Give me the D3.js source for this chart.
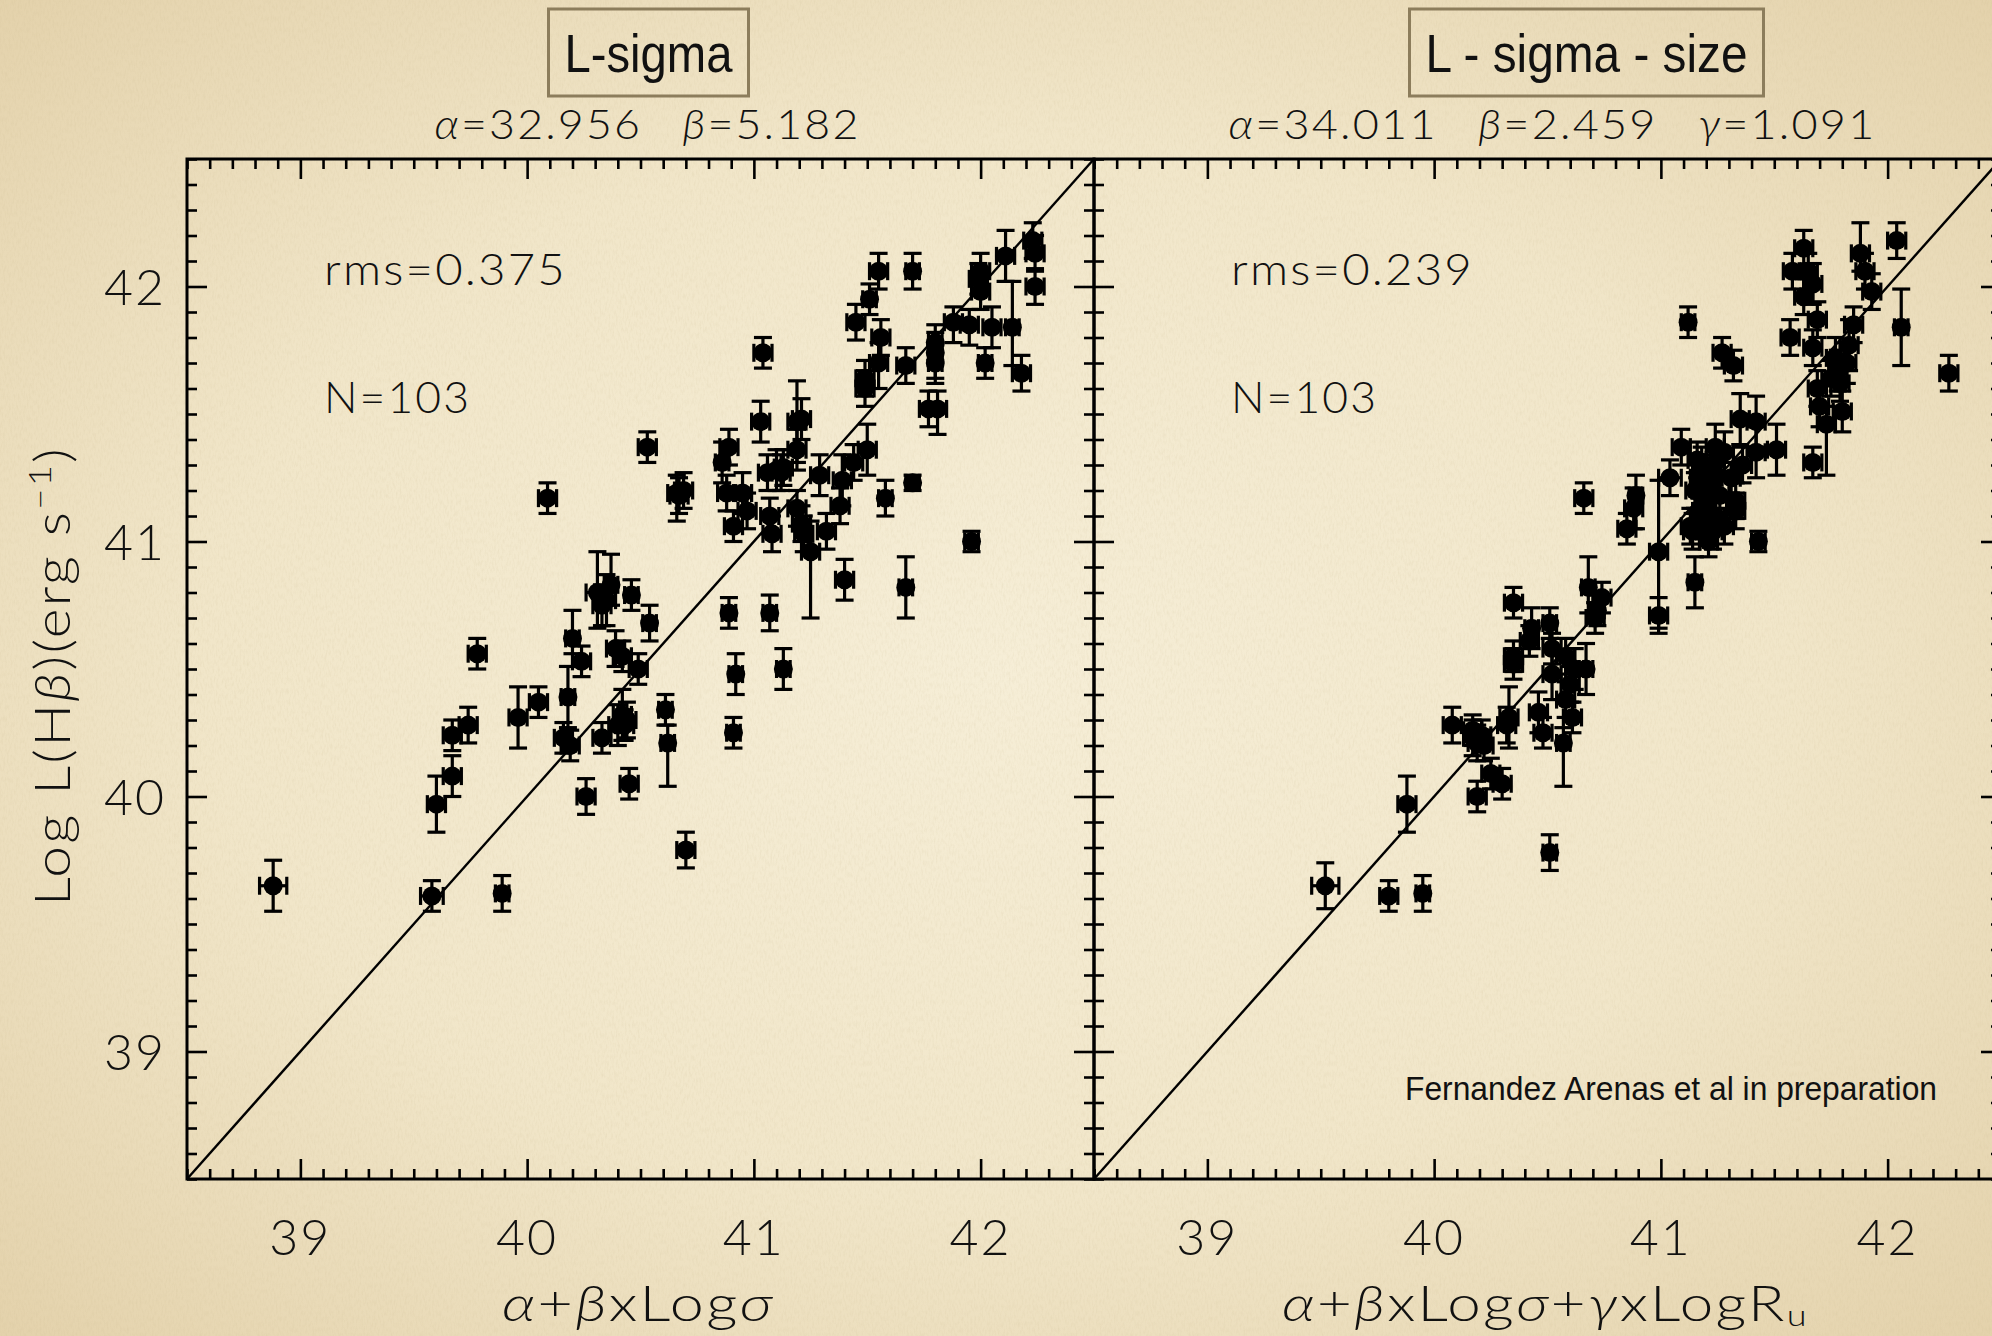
<!DOCTYPE html>
<html>
<head>
<meta charset="utf-8">
<script src="https://cdn.jsdelivr.net/npm/d3@7"></script>
<style>
  html, body { margin: 0; padding: 0; background: #efe3c4; }
  svg { display: block; }
</style>
</head>
<body>
<svg id="chart" width="1992" height="1336"></svg>
<script>
// ---- values ----
const panelTitles = ["L-sigma", "L - sigma - size"];
const fitParamsSigma = [["α", "32.956"], ["β", "5.182"]];
const fitParamsSigmaSize = [["α", "34.011"], ["β", "2.459"], ["γ", "1.091"]];
const rmsValues = ["0.375", "0.239"];
const sampleSizes = [103, 103];
const axisTicks = [39, 40, 41, 42];
const axisDomain = [38.5, 42.5];
const creditNote = "Fernandez Arenas et al in preparation";

// each galaxy: [predicted, log L(Hbeta), err below, err above, err in x]
const lSigma = [
  [38.88, 39.65, 0.10, 0.10, 0.06], [39.58, 39.61, 0.06, 0.06, 0.05], [39.60, 39.97, 0.11, 0.11, 0.04],
  [39.67, 40.08, 0.08, 0.08, 0.04], [39.67, 40.24, 0.06, 0.06, 0.04], [39.74, 40.28, 0.07, 0.07, 0.04],
  [39.78, 40.56, 0.06, 0.06, 0.04], [39.89, 39.62, 0.07, 0.07, 0.03], [39.96, 40.31, 0.12, 0.12, 0.04],
  [40.05, 40.37, 0.06, 0.06, 0.04], [40.09, 41.17, 0.06, 0.06, 0.04], [40.18, 40.39, 0.12, 0.12, 0.03],
  [40.16, 40.23, 0.06, 0.06, 0.04], [40.19, 40.20, 0.06, 0.06, 0.04], [40.20, 40.62, 0.06, 0.11, 0.03],
  [40.24, 40.53, 0.06, 0.06, 0.04], [40.26, 40.00, 0.07, 0.07, 0.04], [40.31, 40.80, 0.14, 0.16, 0.05],
  [40.33, 40.75, 0.08, 0.08, 0.04], [40.37, 40.83, 0.08, 0.12, 0.03], [40.33, 40.23, 0.06, 0.06, 0.04],
  [40.39, 40.58, 0.07, 0.07, 0.04], [40.42, 40.55, 0.06, 0.06, 0.04], [40.42, 40.32, 0.10, 0.10, 0.04],
  [40.40, 40.28, 0.08, 0.08, 0.04], [40.44, 40.30, 0.07, 0.07, 0.04], [40.46, 40.79, 0.06, 0.06, 0.03],
  [40.45, 40.05, 0.06, 0.06, 0.04], [40.49, 40.50, 0.06, 0.06, 0.04], [40.54, 40.68, 0.07, 0.07, 0.03],
  [40.53, 41.37, 0.06, 0.06, 0.04], [40.61, 40.34, 0.06, 0.06, 0.03], [40.62, 40.21, 0.17, 0.07, 0.03],
  [40.66, 41.19, 0.11, 0.07, 0.04], [40.69, 41.20, 0.07, 0.07, 0.04], [40.70, 39.79, 0.07, 0.07, 0.04],
  [40.86, 41.31, 0.08, 0.08, 0.03], [40.89, 41.37, 0.07, 0.07, 0.04], [40.88, 41.19, 0.07, 0.07, 0.04],
  [40.89, 40.72, 0.06, 0.06, 0.03], [40.91, 40.25, 0.06, 0.06, 0.03], [40.92, 40.48, 0.08, 0.08, 0.03],
  [40.91, 41.06, 0.06, 0.06, 0.04], [40.95, 41.19, 0.08, 0.08, 0.04], [40.97, 41.12, 0.07, 0.07, 0.04],
  [41.03, 41.47, 0.08, 0.08, 0.04], [41.04, 41.74, 0.06, 0.06, 0.04], [41.06, 41.27, 0.07, 0.07, 0.04],
  [41.07, 40.72, 0.07, 0.07, 0.03], [41.07, 41.10, 0.07, 0.07, 0.04], [41.08, 41.03, 0.07, 0.07, 0.04],
  [41.10, 41.28, 0.08, 0.08, 0.04], [41.13, 41.29, 0.07, 0.07, 0.04], [41.13, 40.50, 0.08, 0.08, 0.03],
  [41.19, 41.47, 0.16, 0.16, 0.04], [41.21, 41.48, 0.08, 0.08, 0.04], [41.19, 41.36, 0.08, 0.08, 0.04],
  [41.19, 41.13, 0.07, 0.07, 0.04], [41.21, 41.07, 0.07, 0.07, 0.04], [41.22, 41.03, 0.07, 0.07, 0.04],
  [41.25, 40.96, 0.26, 0.12, 0.04], [41.29, 41.26, 0.08, 0.08, 0.04], [41.32, 41.04, 0.07, 0.07, 0.04],
  [41.38, 41.14, 0.07, 0.07, 0.04], [41.39, 41.24, 0.10, 0.10, 0.04], [41.40, 40.85, 0.08, 0.08, 0.04],
  [41.44, 41.31, 0.07, 0.07, 0.04], [41.45, 41.86, 0.07, 0.07, 0.04], [41.49, 41.64, 0.07, 0.07, 0.04],
  [41.49, 41.60, 0.07, 0.07, 0.04], [41.50, 41.36, 0.10, 0.10, 0.04], [41.51, 41.95, 0.06, 0.06, 0.03],
  [41.55, 42.06, 0.07, 0.07, 0.04], [41.56, 41.80, 0.07, 0.07, 0.04], [41.55, 41.70, 0.10, 0.08, 0.04],
  [41.58, 41.17, 0.07, 0.07, 0.03], [41.67, 41.69, 0.07, 0.07, 0.04], [41.67, 40.82, 0.12, 0.12, 0.03],
  [41.70, 41.23, 0.03, 0.03, 0.03], [41.70, 42.06, 0.07, 0.07, 0.03], [41.77, 41.52, 0.07, 0.07, 0.04],
  [41.80, 41.74, 0.10, 0.08, 0.03], [41.80, 41.70, 0.08, 0.07, 0.03], [41.80, 41.78, 0.07, 0.07, 0.03],
  [41.81, 41.52, 0.10, 0.07, 0.04], [41.88, 41.86, 0.08, 0.06, 0.04], [41.95, 41.85, 0.08, 0.06, 0.04],
  [41.96, 41.00, 0.04, 0.04, 0.03], [42.00, 42.06, 0.07, 0.07, 0.04], [42.00, 41.98, 0.07, 0.07, 0.04],
  [42.02, 41.70, 0.06, 0.06, 0.03], [42.05, 41.84, 0.08, 0.08, 0.04], [42.11, 42.12, 0.10, 0.10, 0.04],
  [42.14, 41.84, 0.15, 0.18, 0.03], [42.18, 41.66, 0.07, 0.07, 0.04], [42.23, 42.18, 0.07, 0.07, 0.04],
  [42.24, 42.13, 0.07, 0.07, 0.04], [42.24, 42.00, 0.07, 0.07, 0.04], [40.67, 41.18, 0.07, 0.07, 0.04],
  [41.12, 41.27, 0.07, 0.07, 0.04], [40.43, 40.28, 0.06, 0.06, 0.04], [41.99, 42.03, 0.06, 0.06, 0.04],
  [40.35, 40.77, 0.10, 0.10, 0.04]
];

const lSigmaSize = [
  [39.52, 39.65, 0.09, 0.09, 0.06], [39.80, 39.61, 0.06, 0.06, 0.04], [39.95, 39.62, 0.07, 0.07, 0.03],
  [39.88, 39.97, 0.11, 0.11, 0.04], [40.08, 40.28, 0.07, 0.07, 0.04], [40.17, 40.23, 0.07, 0.07, 0.04],
  [40.19, 40.21, 0.07, 0.07, 0.04], [40.21, 40.24, 0.06, 0.06, 0.04], [40.19, 40.00, 0.06, 0.06, 0.04],
  [40.25, 40.09, 0.06, 0.06, 0.04], [40.30, 40.05, 0.06, 0.06, 0.04], [40.32, 40.28, 0.07, 0.07, 0.04],
  [40.33, 40.31, 0.12, 0.12, 0.04], [40.35, 40.55, 0.06, 0.06, 0.04], [40.35, 40.52, 0.06, 0.06, 0.04],
  [40.35, 40.76, 0.06, 0.06, 0.04], [40.42, 40.61, 0.06, 0.06, 0.04], [40.43, 40.66, 0.08, 0.08, 0.03],
  [40.46, 40.33, 0.08, 0.08, 0.04], [40.48, 40.25, 0.06, 0.06, 0.04], [40.51, 40.68, 0.06, 0.06, 0.03],
  [40.52, 40.48, 0.10, 0.10, 0.04], [40.51, 39.78, 0.07, 0.07, 0.03], [40.57, 40.21, 0.17, 0.06, 0.03],
  [40.58, 40.55, 0.07, 0.07, 0.04], [40.58, 40.38, 0.07, 0.07, 0.04], [40.61, 40.31, 0.06, 0.06, 0.04],
  [40.62, 40.50, 0.08, 0.08, 0.04], [40.67, 40.50, 0.10, 0.10, 0.03], [40.66, 41.17, 0.06, 0.06, 0.04],
  [40.68, 40.82, 0.10, 0.12, 0.03], [40.71, 40.70, 0.06, 0.06, 0.04], [40.74, 40.78, 0.06, 0.06, 0.04],
  [40.72, 40.73, 0.06, 0.06, 0.03], [40.85, 41.05, 0.06, 0.06, 0.04], [40.88, 41.13, 0.08, 0.08, 0.04],
  [40.89, 41.18, 0.13, 0.08, 0.03], [40.99, 40.96, 0.30, 0.28, 0.04], [40.99, 40.71, 0.07, 0.07, 0.04],
  [41.04, 41.25, 0.07, 0.07, 0.05], [41.09, 41.37, 0.07, 0.07, 0.04], [41.12, 41.86, 0.06, 0.06, 0.03],
  [41.14, 41.04, 0.07, 0.07, 0.04], [41.13, 41.06, 0.07, 0.07, 0.04], [41.15, 40.84, 0.10, 0.10, 0.03],
  [41.15, 41.20, 0.07, 0.07, 0.04], [41.17, 41.25, 0.08, 0.08, 0.04], [41.18, 41.12, 0.07, 0.07, 0.04],
  [41.18, 41.30, 0.07, 0.07, 0.04], [41.20, 41.16, 0.07, 0.07, 0.04], [41.21, 41.22, 0.08, 0.08, 0.04],
  [41.22, 41.27, 0.07, 0.07, 0.04], [41.23, 41.04, 0.07, 0.07, 0.04], [41.24, 41.37, 0.09, 0.09, 0.04],
  [41.24, 41.10, 0.07, 0.07, 0.04], [41.27, 41.74, 0.06, 0.06, 0.04], [41.26, 41.18, 0.08, 0.08, 0.04],
  [41.31, 41.25, 0.06, 0.06, 0.04], [41.32, 41.69, 0.06, 0.06, 0.04], [41.33, 41.16, 0.07, 0.07, 0.04],
  [41.33, 41.12, 0.07, 0.07, 0.04], [41.35, 41.48, 0.10, 0.10, 0.04], [41.42, 41.47, 0.10, 0.10, 0.04],
  [41.42, 41.35, 0.10, 0.10, 0.04], [41.43, 41.00, 0.04, 0.04, 0.03], [41.51, 41.36, 0.10, 0.10, 0.04],
  [41.57, 41.80, 0.07, 0.07, 0.04], [41.58, 42.06, 0.07, 0.07, 0.04], [41.63, 42.15, 0.07, 0.07, 0.04],
  [41.65, 42.06, 0.07, 0.07, 0.04], [41.67, 42.01, 0.08, 0.08, 0.04], [41.63, 41.96, 0.07, 0.07, 0.04],
  [41.67, 41.76, 0.07, 0.07, 0.04], [41.69, 41.87, 0.07, 0.07, 0.04], [41.67, 41.31, 0.06, 0.06, 0.04],
  [41.69, 41.60, 0.07, 0.07, 0.04], [41.70, 41.53, 0.08, 0.08, 0.04], [41.73, 41.46, 0.20, 0.07, 0.04],
  [41.77, 41.72, 0.10, 0.08, 0.04], [41.78, 41.67, 0.08, 0.08, 0.04], [41.80, 41.51, 0.08, 0.08, 0.04],
  [41.82, 41.70, 0.08, 0.08, 0.04], [41.83, 41.77, 0.10, 0.10, 0.04], [41.85, 41.85, 0.07, 0.07, 0.04],
  [41.88, 42.13, 0.07, 0.12, 0.04], [41.90, 42.06, 0.07, 0.07, 0.04], [41.93, 41.98, 0.07, 0.07, 0.04],
  [42.04, 42.18, 0.07, 0.07, 0.04], [42.06, 41.84, 0.15, 0.15, 0.03], [42.27, 41.66, 0.07, 0.07, 0.04],
  [40.17, 40.26, 0.06, 0.06, 0.04], [40.22, 40.20, 0.06, 0.06, 0.04], [41.19, 41.08, 0.07, 0.07, 0.04],
  [41.28, 41.06, 0.07, 0.07, 0.04], [41.24, 41.31, 0.07, 0.07, 0.04], [41.75, 41.64, 0.07, 0.07, 0.04],
  [40.52, 40.58, 0.06, 0.06, 0.04], [41.16, 41.32, 0.07, 0.07, 0.04], [41.36, 41.30, 0.07, 0.07, 0.04],
  [41.28, 41.35, 0.08, 0.08, 0.04], [41.21, 41.00, 0.06, 0.06, 0.04], [40.60, 40.44, 0.07, 0.07, 0.04],
  [41.79, 41.62, 0.07, 0.07, 0.04]
];

// ---- layout ----
const W = 1992, H = 1336;
const plotTop = 159, plotBottom = 1179, panelW = 907;
const panelLefts = [187, 1094];
const lightFont = "Lato, 'Open Sans', 'DejaVu Sans', sans-serif";
const plainFont = "'Liberation Sans', Arial, Helvetica, sans-serif";

const svg = d3.select("#chart");
const defs = svg.append("defs");

// parchment background
const paper = defs.append("radialGradient").attr("id", "paper")
  .attr("cx", "50%").attr("cy", "50%").attr("r", "72%");
paper.append("stop").attr("offset", "0%").attr("stop-color", "#f6eed7");
paper.append("stop").attr("offset", "55%").attr("stop-color", "#f1e6c9");
paper.append("stop").attr("offset", "100%").attr("stop-color", "#e3d1aa");
svg.append("rect").attr("width", W).attr("height", H).attr("fill", "url(#paper)");

const grain = defs.append("filter").attr("id", "grain")
  .attr("x", 0).attr("y", 0).attr("width", "100%").attr("height", "100%");
grain.append("feTurbulence").attr("type", "fractalNoise")
  .attr("baseFrequency", "0.55 0.18").attr("numOctaves", 3).attr("seed", 7).attr("result", "n");
grain.append("feColorMatrix").attr("type", "matrix")
  .attr("values", "0 0 0 0 0.55  0 0 0 0 0.45  0 0 0 0 0.25  1.8 0 0 0 -0.75");
svg.append("rect").attr("width", W).attr("height", H)
  .attr("filter", "url(#grain)").attr("opacity", 0.16);

const x10 = d3.range(385, 426);
const minorTicks = x10.filter(v => v % 10 !== 0).map(v => v / 10);

function styleTicks(sel) {
  sel.select(".domain").remove();
  sel.selectAll(".tick line").attr("stroke", "#000").attr("stroke-width", 2.6);
  sel.selectAll(".tick text").remove();
}

const panels = [
  { data: lSigma, title: panelTitles[0], titleShift: 8, titleWidth: 168,
    params: fitParamsSigma, paramsWidth: 426, paramsShift: 7, xTitleWidth: 273,
    xTitle: [["α", true], ["+", false], ["β", true], ["xLog", false], ["σ", true]] },
  { data: lSigmaSize, title: panelTitles[1], titleShift: 39, titleWidth: 322,
    params: fitParamsSigmaSize, paramsWidth: 648, paramsShift: 5, xTitleWidth: 527,
    xTitle: [["α", true], ["+", false], ["β", true], ["xLog", false], ["σ", true], ["+", false],
             ["γ", true], ["xLogR", false], ["u", false, "sub"]] }
];

panels.forEach((p, i) => {
  const left = panelLefts[i];
  const cx = left + panelW / 2;
  const x = d3.scaleLinear().domain(axisDomain).range([left, left + panelW]);
  const y = d3.scaleLinear().domain(axisDomain).range([plotBottom, plotTop]);
  const g = svg.append("g");

  const clipId = "clip" + i;
  defs.append("clipPath").attr("id", clipId).append("rect")
    .attr("x", left).attr("y", plotTop).attr("width", panelW).attr("height", plotBottom - plotTop);

  // ticks on all four sides, pointing inward
  [[minorTicks, 10], [axisTicks, 20]].forEach(([vals, len]) => {
    g.append("g").attr("transform", `translate(0,${plotBottom})`)
      .call(d3.axisTop(x).tickValues(vals).tickSize(len).tickSizeOuter(0)).call(styleTicks);
    g.append("g").attr("transform", `translate(0,${plotTop})`)
      .call(d3.axisBottom(x).tickValues(vals).tickSize(len).tickSizeOuter(0)).call(styleTicks);
    g.append("g").attr("transform", `translate(${left},0)`)
      .call(d3.axisRight(y).tickValues(vals).tickSize(len).tickSizeOuter(0)).call(styleTicks);
    g.append("g").attr("transform", `translate(${left + panelW},0)`)
      .call(d3.axisLeft(y).tickValues(vals).tickSize(len).tickSizeOuter(0)).call(styleTicks);
  });

  // frame
  g.append("rect").attr("x", left).attr("y", plotTop)
    .attr("width", panelW).attr("height", plotBottom - plotTop)
    .attr("fill", "none").attr("stroke", "#000").attr("stroke-width", 3);

  // one-to-one line
  g.append("path").attr("clip-path", `url(#${clipId})`)
    .attr("d", d3.line()([[x(axisDomain[0]), y(axisDomain[0])], [x(axisDomain[1]), y(axisDomain[1])]]))
    .attr("stroke", "#000").attr("stroke-width", 2.4).attr("fill", "none");

  // error bars and points
  const cap = 9;
  const pts = g.append("g").attr("stroke", "#000").attr("stroke-width", 3.2).attr("fill", "#000");
  p.data.forEach(d => {
    const [xv, yv, lo, hi, xe] = d;
    const px = x(xv), py = y(yv), y0 = y(yv - lo), y1 = y(yv + hi), x0 = x(xv - xe), x1 = x(xv + xe);
    const eg = pts.append("g");
    eg.append("line").attr("x1", px).attr("x2", px).attr("y1", y0).attr("y2", y1);
    eg.append("line").attr("x1", px - cap).attr("x2", px + cap).attr("y1", y0).attr("y2", y0);
    eg.append("line").attr("x1", px - cap).attr("x2", px + cap).attr("y1", y1).attr("y2", y1);
    eg.append("line").attr("x1", x0).attr("x2", x1).attr("y1", py).attr("y2", py);
    eg.append("line").attr("x1", x0).attr("x2", x0).attr("y1", py - cap).attr("y2", py + cap);
    eg.append("line").attr("x1", x1).attr("x2", x1).attr("y1", py - cap).attr("y2", py + cap);
  });
  pts.selectAll("circle").data(p.data).join("circle")
    .attr("cx", d => x(d[0])).attr("cy", d => y(d[1])).attr("r", 9.5).attr("stroke", "none");

  // x tick labels
  g.selectAll("text.xtick").data(axisTicks).join("text").attr("class", "xtick")
    .attr("x", d => x(d)).attr("y", 1255).attr("text-anchor", "middle")
    .attr("font-family", lightFont).attr("font-weight", 300).attr("font-size", 50)
    .attr("letter-spacing", 2).attr("fill", "#111").text(d => d);

  // y tick labels on the first panel
  if (i === 0) {
    g.selectAll("text.ytick").data(axisTicks).join("text").attr("class", "ytick")
      .attr("x", 166).attr("y", d => y(d) + 18).attr("text-anchor", "end")
      .attr("font-family", lightFont).attr("font-weight", 300).attr("font-size", 50)
      .attr("letter-spacing", 2).attr("fill", "#111").text(d => d);
  }

  // statistics
  const statX = left + 137;
  g.append("text").attr("x", statX).attr("y", 285)
    .attr("font-family", lightFont).attr("font-weight", 300).attr("font-size", 43)
    .attr("letter-spacing", 2)
    .attr("textLength", 243).attr("lengthAdjust", "spacingAndGlyphs").attr("fill", "#111")
    .text(`rms=${rmsValues[i]}`);
  g.append("text").attr("x", statX).attr("y", 413)
    .attr("font-family", lightFont).attr("font-weight", 300).attr("font-size", 43)
    .attr("letter-spacing", 2)
    .attr("textLength", 147).attr("lengthAdjust", "spacingAndGlyphs").attr("fill", "#111")
    .text(`N=${sampleSizes[i]}`);

  // boxed title
  g.append("text").attr("x", cx + p.titleShift).attr("y", 72).attr("text-anchor", "middle")
    .attr("font-family", plainFont).attr("font-size", 53).attr("fill", "#111")
    .attr("textLength", p.titleWidth).attr("lengthAdjust", "spacingAndGlyphs")
    .text(p.title);
  g.insert("rect", "text").attr("x", cx + p.titleShift - p.titleWidth / 2 - 16).attr("y", 9)
    .attr("width", p.titleWidth + 32).attr("height", 87)
    .attr("fill", "none").attr("stroke", "#8c7d5c").attr("stroke-width", 3);

  // fit parameters
  const pt = g.append("text").attr("x", cx + p.paramsShift).attr("y", 139).attr("text-anchor", "middle")
    .attr("font-family", lightFont).attr("font-weight", 300).attr("font-size", 41)
    .attr("letter-spacing", 2)
    .attr("textLength", p.paramsWidth).attr("lengthAdjust", "spacingAndGlyphs").attr("fill", "#111")
    .style("white-space", "pre");
  p.params.forEach(([sym, val], k) => {
    pt.append("tspan").attr("font-style", "italic").text((k ? "   " : "") + sym);
    pt.append("tspan").text("=" + val);
  });

  // axis title
  const xt = g.append("text").attr("x", cx - 2).attr("y", 1321).attr("text-anchor", "middle")
    .attr("font-family", lightFont).attr("font-weight", 300).attr("font-size", 50)
    .attr("letter-spacing", 2)
    .attr("textLength", p.xTitleWidth).attr("lengthAdjust", "spacingAndGlyphs").attr("fill", "#111");
  p.xTitle.forEach(([s, it, shift]) => {
    const ts = xt.append("tspan").text(s);
    if (it) ts.attr("font-style", "italic");
    if (shift === "sub") ts.attr("font-size", 30).attr("dy", 5);
  });
});

// y axis title
const yt = svg.append("text")
  .attr("transform", `translate(70,${(plotTop + plotBottom) / 2 + 7}) rotate(-90)`)
  .attr("text-anchor", "middle").attr("font-family", lightFont).attr("font-weight", 300)
  .attr("font-size", 50).attr("letter-spacing", 2)
  .attr("textLength", 460).attr("lengthAdjust", "spacingAndGlyphs").attr("fill", "#111");
yt.append("tspan").text("Log L(H");
yt.append("tspan").attr("font-style", "italic").text("β");
yt.append("tspan").text(")(erg s");
yt.append("tspan").attr("font-size", 32).attr("dy", -19).text("−1");
yt.append("tspan").attr("dy", 19).text(")");

// credit line
svg.append("text").attr("x", 1405).attr("y", 1100)
  .attr("font-family", plainFont).attr("font-size", 33).attr("fill", "#111")
  .attr("textLength", 532).attr("lengthAdjust", "spacingAndGlyphs")
  .text(creditNote);
</script>
</body>
</html>
